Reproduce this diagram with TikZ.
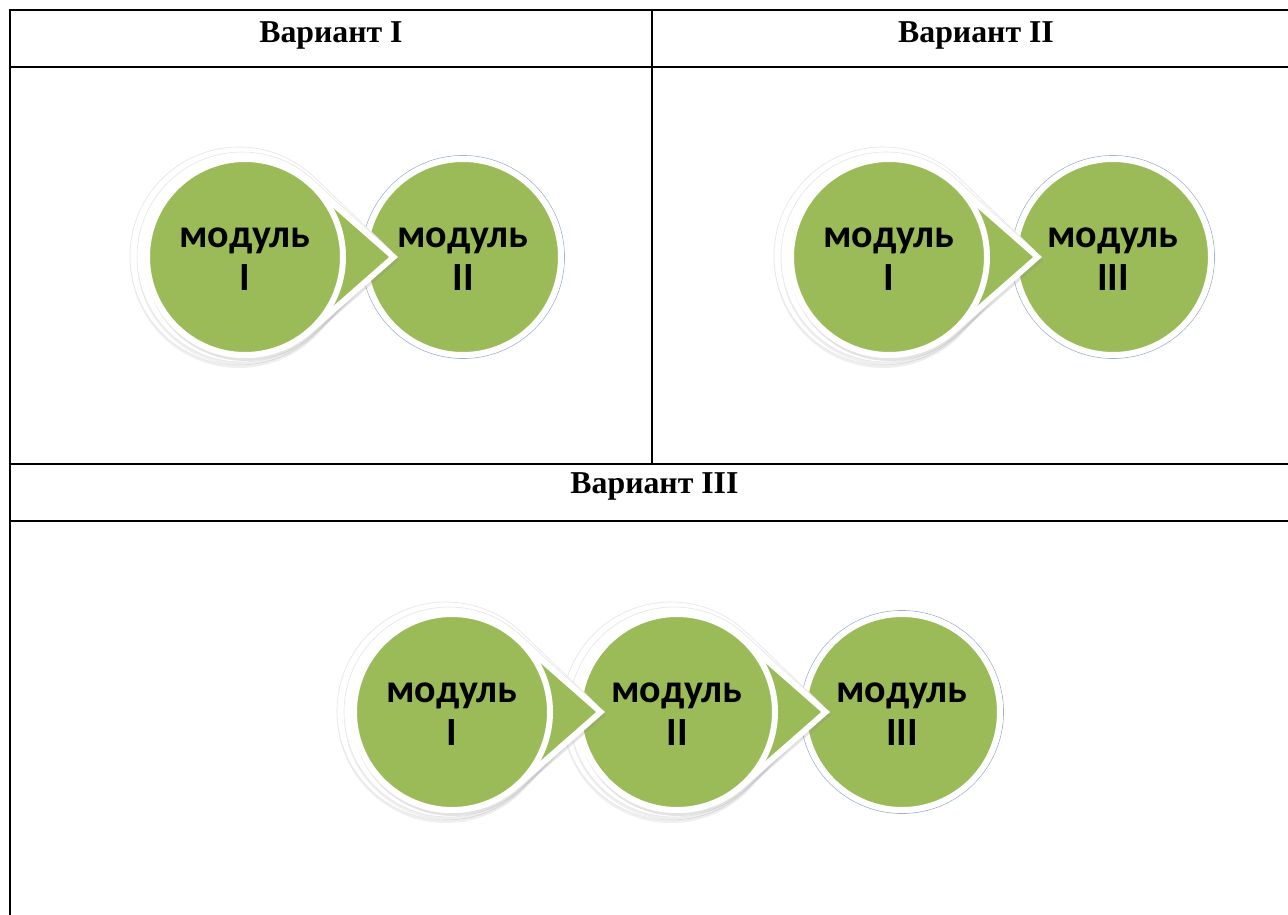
\documentclass[tikz,border=0pt]{standalone}
\usepackage{fontspec}
\setmainfont{Liberation Serif}
\newfontfamily\modfont{Carlito}
\usetikzlibrary{calc,shadows}
\definecolor{grn}{HTML}{9BBB59}
\definecolor{rimline}{HTML}{9DB2D6}

\newcommand\tdrop[5]{%
  \pgfmathsetmacro\tal{acos(#4/#5)}%
  \path[#1] (#2+#5,#3) -- ($(#2,#3)+(\tal:#4)$) arc[start angle=\tal, end angle={360-\tal}, radius=#4] -- cycle;}

\newcommand\arrowmod[4]{%
  \tdrop{tearcopy, rotate around={2:(#2-6,#3)}}{#2-6}{#3+1}{109}{152}
  \tdrop{tearcopy, rotate around={1:(#2-3,#3)}}{#2-3}{#3}{105}{152}
  \tdrop{tearwhite}{#2}{#3}{101}{153}
  \tdrop{teargreen}{#2}{#3}{95}{144}
  \node[ring, drop shadow={opacity=0.18, shadow xshift=2pt, shadow yshift=-2pt}] (#1) at (#2,#3) {};
  \node[modt] (#1-w) at ($(#1.center)+(0,10)$) {модуль};
  \node[modt] (#1-n) at ($(#1.center)+(0,-33)$) {#4};
}

\newcommand\lastmod[4]{%
  \node[rim] (#1-r) at (#2,#3) {};
  \node[ring, drop shadow={opacity=0.2, shadow xshift=-1pt, shadow yshift=-3pt}] (#1) at (#2,#3) {};
  \node[modt] (#1-w) at ($(#1.center)+(0,10)$) {модуль};
  \node[modt] (#1-n) at ($(#1.center)+(0,-33)$) {#4};
}

\begin{document}
\begin{tikzpicture}[x=1pt,y=1pt,
  tbl/.style={line width=2pt, black},
  hdr/.style={font=\fontsize{31.8}{36}\selectfont\bfseries, anchor=base, inner sep=0},
  ring/.style={circle, minimum size=196pt, inner sep=0, fill=grn, draw=white, line width=6pt},
  rim/.style={circle, minimum size=203pt, inner sep=0, draw=rimline, line width=0.7pt},
  modt/.style={font=\modfont\bfseries\fontsize{40}{46}\selectfont, anchor=base, inner sep=0, text=black},
  tearwhite/.style={fill=white, drop shadow={opacity=0.22, shadow xshift=1pt, shadow yshift=-3pt}},
  teargreen/.style={fill=grn},
  tearcopy/.style={fill=white, draw=black!10, line width=0.6pt, drop shadow={opacity=0.12, shadow xshift=0pt, shadow yshift=-3pt}},
]
\useasboundingbox (0,0) rectangle (1288,-915);
\fill[white] (0,0) rectangle (1288,-915);

% table
\draw[tbl] (8.5,-10.5) -- (1292,-10.5);
\draw[tbl] (9.5,-10) -- (9.5,-920);
\draw[tbl] (8.5,-67) -- (1292,-67);
\draw[tbl] (652,-10) -- (652,-464);
\draw[tbl] (8.5,-464) -- (1292,-464);
\draw[tbl] (8.5,-521) -- (1292,-521);

\node[hdr] (h1) at (331,-43) {Вариант I};
\node[hdr] (h2) at (976,-43) {Вариант II};
\node[hdr] (h3) at (654.5,-493) {Вариант III};

% Variant I
\lastmod{v1b}{463}{-257}{II}
\arrowmod{v1a}{245}{-257}{I}

% Variant II
\lastmod{v2b}{1113}{-257}{III}
\arrowmod{v2a}{889}{-257}{I}

% Variant III
\lastmod{v3c}{902}{-712}{III}
\arrowmod{v3b}{677}{-712}{II}
\arrowmod{v3a}{452}{-712}{I}
\end{tikzpicture}
\end{document}
